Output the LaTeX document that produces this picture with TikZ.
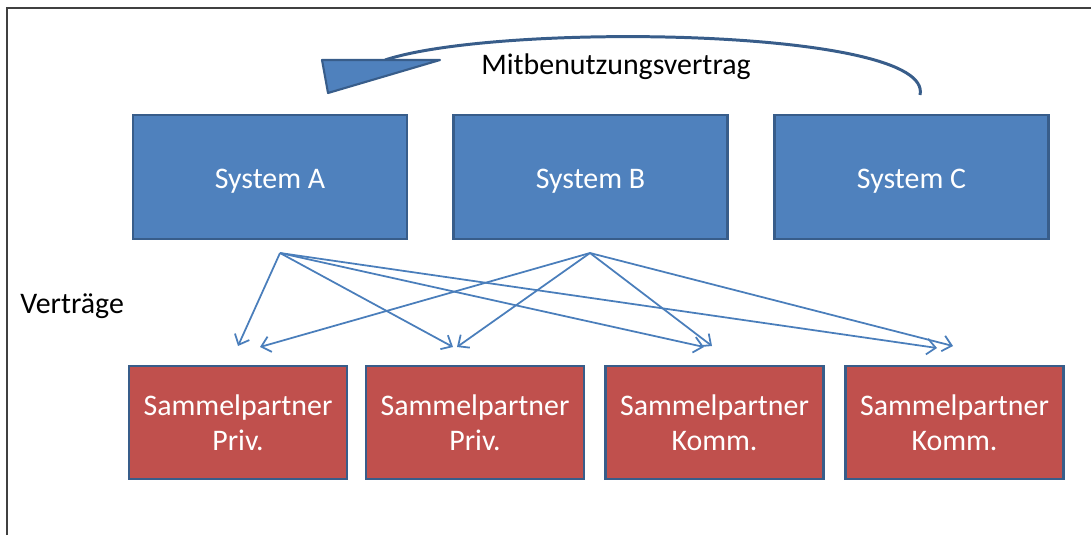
\documentclass[tikz,border=0pt]{standalone}
\usepackage{fontspec}
\setmainfont{Carlito}
\usepackage{xcolor}
\usetikzlibrary{calc}
\usetikzlibrary{arrows.meta}
\definecolor{sysblau}{HTML}{4F81BD}
\definecolor{randblau}{HTML}{385D8A}
\definecolor{pfeilblau}{HTML}{4A7EBB}
\definecolor{partnerrot}{HTML}{C0504D}
\definecolor{rahmen}{HTML}{404040}

\begin{document}
\begin{tikzpicture}
    [
        x=0.02cm, y=-0.02cm,
        font=\fontsize{17}{20}\selectfont,
        system/.style={draw=randblau, line width=1.4pt, fill=sysblau, text=white,
            minimum width=5.48cm, minimum height=2.48cm, text height=13.4pt, text depth=0pt},
        partner/.style={draw=randblau, line width=1.4pt, fill=partnerrot, text=white,
            minimum width=4.36cm, minimum height=2.26cm, align=center},
        vertrag/.style={draw=pfeilblau, line width=1pt,
            -{Straight Barb[length=5pt, width=9pt]}}
    ]
        \useasboundingbox (0,0) rectangle (1091,535);

        %RAHMEN
        \draw[rahmen, line width=1.2pt] (7,535) -- (7,8) -- (1091,8);

        %SYSTEME
        \node[system] (sysA) at (270,177) {System A};
        \node[system] (sysB) at (590.5,177) {System B};
        \node[system] (sysC) at (911.5,177) {System C};

        %SAMMELPARTNER
        \node[partner] (sp1) at (238,422.5) {Sammelpartner\\Priv.};
        \node[partner] (sp2) at (475,422.5) {Sammelpartner\\Priv.};
        \node[partner] (sp3) at (714.5,422.5) {Sammelpartner\\Komm.};
        \node[partner] (sp4) at (954.5,422.5) {Sammelpartner\\Komm.};

        %BESCHRIFTUNG
        \node[anchor=west, inner sep=0pt] (vertraege) at (20,306) {Verträge};
        \node[inner sep=0pt] (mitbenutzung) at (616,67) {Mitbenutzungsvertrag};

        %VERTRAEGE
        \coordinate (qA) at (280,253);
        \coordinate (qB) at (590,253);
        \coordinate (z1a) at (238,346);
        \coordinate (z1b) at (260,347);
        \coordinate (z2a) at (453,347);
        \coordinate (z2b) at (457,347);
        \coordinate (z3a) at (704,347);
        \coordinate (z3b) at (712,346);
        \coordinate (z4a) at (937,348);
        \coordinate (z4b) at (953,346);
        \foreach \z in {z1a,z2a,z3a,z4a}
            \draw[vertrag] (qA) -- (\z);
        \foreach \z in {z1b,z2b,z3b,z4b}
            \draw[vertrag] (qB) -- (\z);

        %MITBENUTZUNG
        \coordinate (bogenC) at (920,95);
        \coordinate (bogenA) at (385,60);
        \draw[randblau, line width=1.7pt]
            (bogenC) .. controls (935,28) and (500,22) .. (bogenA);
        \filldraw[fill=sysblau, draw=randblau, line width=1.2pt, line join=round]
            (322,60) -- (440,60) -- (328,93) -- cycle;
    \end{tikzpicture}
\end{document}
